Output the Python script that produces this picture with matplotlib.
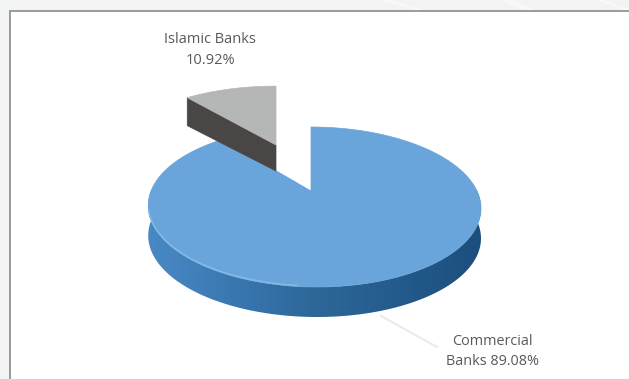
import numpy as np
import matplotlib
matplotlib.use("Agg")
import matplotlib.pyplot as plt
from matplotlib.colors import LinearSegmentedColormap
from matplotlib.patches import Polygon, Rectangle

labels = ["Commercial\nBanks 89.08%", "Islamic Banks\n10.92%"]
shares = [89.08, 10.92]

plt.rcParams['font.family'] = ['Open Sans', 'DejaVu Sans']

W, H = 629, 379
fig = plt.figure(figsize=(W / 100, H / 100), dpi=100, facecolor='#f2f3f3')
ax = fig.add_axes([0, 0, 1, 1])

# pale streaks in the page background
ax.plot([385, 420], [0, 10], color='#f8f8f8', lw=2, zorder=0.5)
ax.plot([505, 530], [0, 10], color='#f8f8f8', lw=3, zorder=0.5)
ax.plot([600, 628], [0, 10], color='#f8f8f8', lw=2, zorder=0.5)

# panel runs off the right and bottom edges
ax.add_patch(Rectangle((9.5, 10.5), 640, 400, fc='white', ec='#939393', lw=1.3, zorder=1))


# tilted disc: turn is clockwise from 12 o'clock, r is 0..1 from the hub
def project(turn, r=1.0, hub=(311, 191), sx=1.0, sy=1.0):
    x = r * np.sin(turn)
    y = r * np.cos(turn)
    w = 1 + 0.2 * y
    return (hub[0] + sx * (163 * x / w + 3 * (r - y)),
            hub[1] - sy * 64 * y * 1.2 / w)


def top_face(start, stop, hub=(311, 191), sx=1.0, sy=1.0):
    t = np.linspace(start, stop, 240)
    px, py = project(t, hub=hub, sx=sx, sy=sy)
    return np.column_stack([np.r_[hub[0], px], np.r_[hub[1], py]])


split = 2 * np.pi * shares[0] / sum(shares)
depth = 30

# rim of the large slice, lighter towards the left
rim = LinearSegmentedColormap.from_list('rim', ['#4a8ac4', '#3a78b2', '#2d6799', '#235b8c', '#1c4e7c'])
turns = np.linspace(np.pi / 2 - 0.15, 3 * np.pi / 2 + 0.15, 300)
rx, ry = project(turns)
outline = np.column_stack([np.r_[rx, rx[::-1]], np.r_[ry, ry[::-1] + depth]])
grad = ax.imshow(np.linspace(0, 1, 256)[None, :], cmap=rim, extent=(145, 484, 330, 190),
                 aspect='auto', zorder=2)
grad.set_clip_path(Polygon(outline, transform=ax.transData))

ax.add_patch(Polygon(top_face(0, split), fc='#69a5da', ec='#69a5da', lw=0.5, zorder=3))

# light bevel along the front left of the top face
bevel = np.linspace(np.pi + 0.1, 3 * np.pi / 2 - 0.25, 80)
bx, by = project(bevel)
ax.plot(bx, by - 1, color='#8fc1ea', lw=1.1, alpha=0.7, zorder=3.5)

# pulled out slice
hub2 = (276, 145)
sx2, sy2 = 1.0, 0.92
edge_x, edge_y = project(split, hub=hub2, sx=sx2, sy=sy2)
ax.add_patch(Polygon([hub2, (edge_x, edge_y), (edge_x, edge_y + 28), (hub2[0], hub2[1] + 26)],
                     fc='#4a4645', ec='#4a4645', lw=0.5, zorder=4))
ax.add_patch(Polygon(top_face(split, 2 * np.pi, hub=hub2, sx=sx2, sy=sy2),
                     fc='#b5b6b6', ec='#b5b6b6', lw=0.5, zorder=5))

# leader for the large slice
ax.plot([381, 437], [316, 347], color='#ecebe8', lw=1.5, zorder=2)

ax.text(210, 50, labels[1], ha='center', va='center', fontsize=10.5, color='#58595b', linespacing=1.5, zorder=6)
ax.text(492, 351.5, labels[0], ha='center', va='center', fontsize=10.4, color='#58595b', linespacing=1.5, zorder=6)

ax.set_xlim(0, W)
ax.set_ylim(H, 0)
ax.axis('off')

fig.savefig('out.png', dpi=100, facecolor=fig.get_facecolor())
